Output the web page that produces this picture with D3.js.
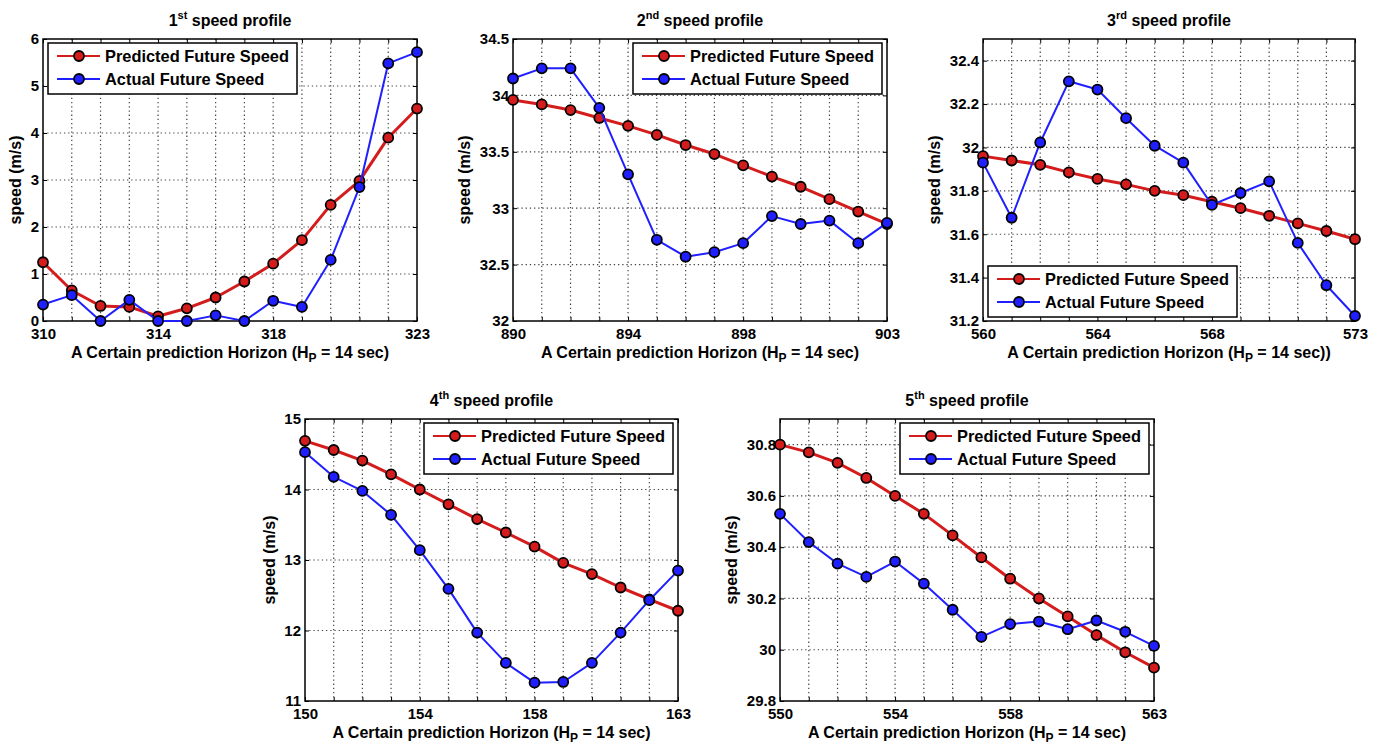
<!DOCTYPE html>
<html>
<head>
<meta charset="utf-8">
<script src="https://cdn.jsdelivr.net/npm/d3@7"></script>
<style>
  body { margin: 0; background: #fff; }
  svg { font-family: "Liberation Sans", Arial, sans-serif; font-weight: bold; }
  .grid line { stroke: #444; stroke-width: 1.2; stroke-dasharray: 1.3,2.9; }
</style>
</head>
<body>
<div id="chart"></div>
<script>

// horizons (seconds) and speeds (m/s)
var horizon1 = [310, 311, 312, 313, 314, 315, 316, 317, 318, 319, 320, 321, 322, 323];
var predicted1 = [1.25, 0.65, 0.32, 0.30, 0.10, 0.27, 0.50, 0.84, 1.22, 1.72, 2.47, 2.98, 3.90, 4.52];
var actual1 = [0.35, 0.55, 0.00, 0.45, 0.00, 0.00, 0.12, 0.00, 0.43, 0.30, 1.30, 2.85, 5.48, 5.72];

var horizon2 = [890, 891, 892, 893, 894, 895, 896, 897, 898, 899, 900, 901, 902, 903];
var predicted2 = [33.96, 33.92, 33.87, 33.80, 33.73, 33.65, 33.56, 33.48, 33.38, 33.28, 33.19, 33.08, 32.97, 32.86];
var actual2 = [34.15, 34.24, 34.24, 33.89, 33.30, 32.72, 32.57, 32.61, 32.69, 32.93, 32.86, 32.89, 32.69, 32.87];

var horizon3 = [560, 561, 562, 563, 564, 565, 566, 567, 568, 569, 570, 571, 572, 573];
var predicted3 = [31.96, 31.94, 31.92, 31.885, 31.855, 31.83, 31.80, 31.78, 31.75, 31.72, 31.685, 31.65, 31.615, 31.577];
var actual3 = [31.93, 31.676, 32.023, 32.305, 32.267, 32.135, 32.008, 31.93, 31.735, 31.79, 31.844, 31.56, 31.365, 31.223];

var horizon4 = [150, 151, 152, 153, 154, 155, 156, 157, 158, 159, 160, 161, 162, 163];
var predicted4 = [14.69, 14.56, 14.41, 14.215, 14.00, 13.79, 13.58, 13.39, 13.19, 12.96, 12.80, 12.61, 12.44, 12.28];
var actual4 = [14.53, 14.18, 13.98, 13.64, 13.14, 12.59, 11.97, 11.54, 11.26, 11.27, 11.54, 11.97, 12.43, 12.85];

var horizon5 = [550, 551, 552, 553, 554, 555, 556, 557, 558, 559, 560, 561, 562, 563];
var predicted5 = [30.80, 30.77, 30.729, 30.67, 30.60, 30.53, 30.446, 30.36, 30.277, 30.20, 30.13, 30.057, 29.99, 29.93];
var actual5 = [30.53, 30.42, 30.336, 30.284, 30.344, 30.258, 30.156, 30.05, 30.10, 30.11, 30.08, 30.114, 30.07, 30.015];

// axis ranges and labelled ticks
var yDomains = [[0, 6], [32, 34.5], [31.2, 32.5], [11, 15], [29.8, 30.9]];
var yTicks1 = [0, 1, 2, 3, 4, 5, 6];
var yTicks2 = [32, 32.5, 33, 33.5, 34, 34.5];
var yTicks3 = [31.2, 31.4, 31.6, 31.8, 32, 32.2, 32.4];
var yTicks4 = [11, 12, 13, 14, 15];
var yTicks5 = [29.8, 30, 30.2, 30.4, 30.6, 30.8];
var xTickLabels1 = [310, 314, 318, 323];
var xTickLabels2 = [890, 894, 898, 903];
var xTickLabels3 = [560, 564, 568, 573];
var xTickLabels4 = [150, 154, 158, 163];
var xTickLabels5 = [550, 554, 558, 563];

var ordinals = ["1", "2", "3", "4", "5"];
var ordinalSuffix = ["st", "nd", "rd", "th", "th"];
var seriesNames = ["Predicted Future Speed", "Actual Future Speed"];
var xLabelEnd = [")", ")", "))", ")", ")"];

// layout of each axes box on the page
var layout = [
  {left: 43,  top: 39,  width: 374, height: 282, legend: "tl"},
  {left: 513, top: 39,  width: 374, height: 282, legend: "tr"},
  {left: 983, top: 39,  width: 372, height: 282, legend: "bl"},
  {left: 305, top: 419, width: 373, height: 282, legend: "tr"},
  {left: 780, top: 419, width: 374, height: 282, legend: "tr"}
];

var panels = [
  {x: horizon1, pred: predicted1, act: actual1, yTicks: yTicks1, xLabels: xTickLabels1},
  {x: horizon2, pred: predicted2, act: actual2, yTicks: yTicks2, xLabels: xTickLabels2},
  {x: horizon3, pred: predicted3, act: actual3, yTicks: yTicks3, xLabels: xTickLabels3},
  {x: horizon4, pred: predicted4, act: actual4, yTicks: yTicks4, xLabels: xTickLabels4},
  {x: horizon5, pred: predicted5, act: actual5, yTicks: yTicks5, xLabels: xTickLabels5}
];

var colors = {pred: "#d41c1c", act: "#1f1fff"};

var svg = d3.select("#chart")
  .append("svg")
    .attr("width", 1378)
    .attr("height", 744);

panels.forEach(function(p, i) {
  var L = layout[i];
  var width = L.width, height = L.height;

  var g = svg.append("g")
    .attr("transform", "translate(" + L.left + "," + L.top + ")");

  var x = d3.scaleLinear()
    .domain(d3.extent(p.x))
    .range([0, width]);
  var y = d3.scaleLinear()
    .domain(yDomains[i])
    .range([height, 0]);

  // dotted grid: every horizon second, every y tick
  g.append("g").attr("class", "grid")
    .selectAll("line")
    .data(p.x.slice(1, -1))
    .enter().append("line")
      .attr("x1", function(d) { return x(d); })
      .attr("x2", function(d) { return x(d); })
      .attr("y1", 0).attr("y2", height);
  g.append("g").attr("class", "grid")
    .selectAll("line")
    .data(p.yTicks.filter(function(d) { return y(d) > 1 && y(d) < height - 1; }))
    .enter().append("line")
      .attr("y1", function(d) { return y(d); })
      .attr("y2", function(d) { return y(d); })
      .attr("x1", 0).attr("x2", width);

  // axes with inward ticks
  var fmtX = function(d) { return p.xLabels.indexOf(d) >= 0 ? d : ""; };
  g.append("g")
    .attr("transform", "translate(0," + height + ")")
    .call(d3.axisBottom(x).tickValues(p.x).tickSize(-4).tickPadding(7).tickFormat(fmtX));
  g.append("g")
    .call(d3.axisTop(x).tickValues(p.x).tickSize(-4).tickFormat(""));
  var yAxis = g.append("g")
    .call(d3.axisLeft(y).tickValues(p.yTicks).tickSize(-4).tickPadding(4).tickFormat(function(d) { return d; }));
  g.append("g")
    .attr("transform", "translate(" + width + ",0)")
    .call(d3.axisRight(y).tickValues(p.yTicks).tickSize(-4).tickFormat(""));

  g.selectAll(".domain").remove();
  g.selectAll(".tick line").attr("stroke", "#000").attr("stroke-width", 1);
  g.selectAll(".tick text").attr("fill", "#000").style("font-size", "15px").style("font-weight", "bold");

  g.append("rect")
    .attr("width", width).attr("height", height)
    .attr("fill", "none").attr("stroke", "#000").attr("stroke-width", 1.5);

  // the two series
  var series = [
    {values: p.pred, color: colors.pred, lw: 3},
    {values: p.act, color: colors.act, lw: 2}
  ];
  series.forEach(function(s) {
    var pts = p.x.map(function(d, k) { return [d, s.values[k]]; });
    g.append("path")
      .datum(pts)
      .attr("fill", "none")
      .attr("stroke", s.color)
      .attr("stroke-width", s.lw)
      .attr("stroke-linejoin", "round")
      .attr("d", d3.line()
        .x(function(d) { return x(d[0]); })
        .y(function(d) { return y(d[1]); }));
    g.selectAll(null)
      .data(pts)
      .enter().append("circle")
        .attr("cx", function(d) { return x(d[0]); })
        .attr("cy", function(d) { return y(d[1]); })
        .attr("r", 5)
        .attr("fill", s.color)
        .attr("stroke", "#000")
        .attr("stroke-width", 1.8);
  });

  // title with superscript
  var title = g.append("text")
    .attr("x", width / 2).attr("y", -13)
    .attr("text-anchor", "middle")
    .style("font-size", "16px");
  title.append("tspan").text(ordinals[i]);
  title.append("tspan").attr("dy", -7).style("font-size", "11px").text(ordinalSuffix[i]);
  title.append("tspan").attr("dy", 7).text(" speed profile");

  // x label with subscript P
  var xl = g.append("text")
    .attr("x", width / 2).attr("y", height + 37)
    .attr("text-anchor", "middle")
    .style("font-size", "16px");
  xl.append("tspan").text("A Certain prediction Horizon (H");
  xl.append("tspan").attr("dy", 4).style("font-size", "12px").text("P");
  xl.append("tspan").attr("dy", -4).text(" = 14 sec" + xLabelEnd[i]);

  // y label placed left of the widest tick label
  var maxW = d3.max(yAxis.selectAll(".tick text").nodes(), function(n) { return n.getComputedTextLength(); });
  g.append("text")
    .attr("transform", "translate(" + (-4 - maxW - 15) + "," + (height / 2) + ") rotate(-90)")
    .attr("text-anchor", "middle")
    .attr("dy", "0.35em")
    .style("font-size", "16px")
    .text("speed (m/s)");

  // legend
  var lw = 249, lh = 51;
  var lx = L.legend.charAt(1) === "l" ? 5 : width - 5 - lw;
  var ly = L.legend.charAt(0) === "t" ? 4 : height - 4 - lh;
  var leg = g.append("g").attr("transform", "translate(" + lx + "," + ly + ")");
  leg.append("rect")
    .attr("width", lw).attr("height", lh)
    .attr("fill", "#fff").attr("stroke", "#000").attr("stroke-width", 1.5);
  series.forEach(function(s, k) {
    var ry = 13 + k * 23;
    leg.append("line")
      .attr("x1", 9).attr("x2", 52).attr("y1", ry).attr("y2", ry)
      .attr("stroke", s.color).attr("stroke-width", 2);
    leg.append("circle")
      .attr("cx", 31).attr("cy", ry).attr("r", 5)
      .attr("fill", s.color).attr("stroke", "#000").attr("stroke-width", 1.8);
    leg.append("text")
      .attr("x", 57).attr("y", ry).attr("dy", "0.36em")
      .style("font-size", "16.4px")
      .text(seriesNames[k]);
  });
});
</script>
</body>
</html>
